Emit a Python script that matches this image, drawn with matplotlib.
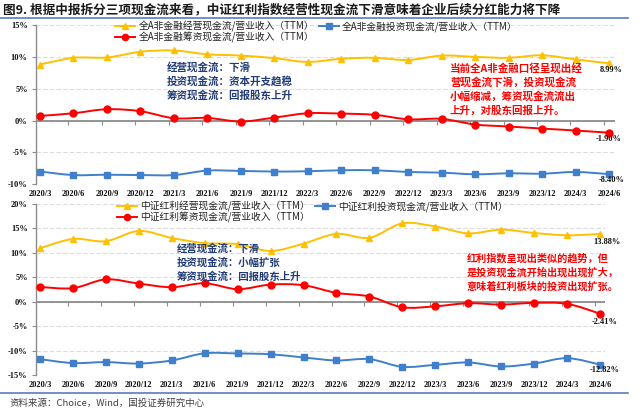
import numpy as np
import matplotlib
matplotlib.use("Agg")
import matplotlib.pyplot as plt
from matplotlib.path import Path
from matplotlib.patches import PathPatch
from matplotlib.lines import Line2D
from matplotlib.ticker import FuncFormatter

plt.rcParams['font.family'] = ['Noto Sans CJK SC', 'DejaVu Sans']

# ---------------- data ----------------
quarters = ["2020/3", "2020/6", "2020/9", "2020/12", "2021/3", "2021/6", "2021/9", "2021/12",
            "2022/3", "2022/6", "2022/9", "2022/12", "2023/3", "2023/6", "2023/9", "2023/12",
            "2024/3", "2024/6"]

# 全A非金融
a_oper = [8.8, 9.85, 9.9, 10.8, 11.0, 10.4, 10.2, 9.8, 9.2, 9.7, 9.85, 9.5, 10.2, 10.0, 9.85, 10.25, 9.6, 8.99]
a_fin = [0.73, 1.15, 1.78, 1.47, 0.37, 0.42, -0.15, 0.47, 1.15, 1.1, 0.9, 0.2, 0.27, -0.62, -0.93, -1.25, -1.56, -1.90]
a_inv = [-8.0, -8.55, -8.5, -8.55, -8.55, -7.85, -7.9, -8.0, -7.95, -7.8, -7.8, -8.07, -8.17, -8.43, -8.28, -8.33, -8.07, -8.40]

# 中证红利
d_oper = [10.95, 12.86, 12.4, 14.5, 13.06, 12.0, 11.8, 10.4, 11.9, 13.9, 13.1, 16.05, 15.4, 14.0, 14.76, 14.08, 13.6, 13.88]
d_fin = [3.06, 2.8, 4.6, 3.74, 3.0, 3.8, 2.6, 3.54, 3.4, 1.84, 1.1, -1.1, -0.9, -0.27, -0.54, -0.2, -0.4, -2.41]
d_inv = [-11.7, -12.5, -12.3, -12.6, -11.97, -10.5, -10.54, -10.7, -11.36, -11.97, -11.7, -13.27, -12.86, -12.38, -13.2, -12.6, -11.5, -12.82]

top_labels = ["全A非金融经营现金流/营业收入（TTM）", "全A非金融筹资现金流/营业收入（TTM）", "全A非金融投资现金流/营业收入（TTM）"]
bot_labels = ["中证红利经营现金流/营业收入（TTM）", "中证红利筹资现金流/营业收入（TTM）", "中证红利投资现金流/营业收入（TTM）"]

title = "图9. 根据中报拆分三项现金流来看，中证红利指数经营性现金流下滑意味着企业后续分红能力将下降"
source = "资料来源：Choice，Wind，国投证券研究中心"
top_notes = ["经营现金流：下滑", "投资现金流：资本开支趋稳", "筹资现金流：回报股东上升"]
top_red = ["当前全A非金融口径呈现出经", "营现金流下滑，投资现金流", "小幅缩减，筹资现金流流出", "上升，对股东回报上升。"]
bot_notes = ["经营现金流：下滑", "投资现金流：小幅扩张", "筹资现金流：回报股东上升"]
bot_red = ["红利指数呈现出类似的趋势，但", "是投资现金流开始出现出现扩大，", "意味着红利板块的投资出现扩张。"]

# ---------------- style ----------------
YEL = '#FFC000'
RED = '#FF0000'
BLU = '#3F7FCC'
NAVY = '#223C78'
NUMFONT = 'Liberation Serif'

W, H = 640, 417
fig = plt.figure(figsize=(W / 100, H / 100), dpi=100)


def smooth_path(x, y):
    pts = np.column_stack([x, y]).astype(float)
    n = len(pts)
    verts = [pts[0]]
    codes = [Path.MOVETO]
    for i in range(n - 1):
        p0 = pts[i - 1] if i > 0 else pts[i]
        p1 = pts[i]
        p2 = pts[i + 1]
        p3 = pts[i + 2] if i + 2 < n else pts[i + 1]
        c1 = p1 + (p2 - p0) / 6.0
        c2 = p2 - (p3 - p1) / 6.0
        verts += [c1, c2, p2]
        codes += [Path.CURVE4] * 3
    return Path(verts, codes)


def setup_axes(rect, ylim, yticks, xlim_right):
    ax = fig.add_axes(rect)
    x = np.arange(len(quarters))
    ax.set_xlim(-0.12, xlim_right)
    ax.set_ylim(*ylim)
    ax.set_yticks(yticks)
    ax.yaxis.set_major_formatter(FuncFormatter(lambda v, p: f"{v:.0f}%"))
    ax.set_xticks(x)
    ax.set_xticklabels(quarters)
    for s in ['top', 'right', 'bottom']:
        ax.spines[s].set_visible(False)
    ax.spines['left'].set_color('#8C8C8C')
    ax.spines['left'].set_linewidth(1.0)
    ax.tick_params(axis='x', length=0, pad=4)
    ax.tick_params(axis='y', length=3, width=0.8, color='#8C8C8C', pad=3)
    for lab in ax.get_xticklabels() + ax.get_yticklabels():
        lab.set_fontfamily(NUMFONT)
        lab.set_fontweight('bold')
        lab.set_fontsize(6)
        lab.set_color('#111111')
    ax.grid(axis='y', color='#DCDCDC', linestyle=(0, (4, 2)), linewidth=0.8)
    ax.set_axisbelow(True)
    ax.axhline(0, color='#8C8C8C', linewidth=1.3, zorder=2)
    ax.plot(x[1:] - 0.15, np.zeros(len(x) - 1), ls='none', marker=3, ms=3,
            mew=0.8, color='#8C8C8C', zorder=2)
    return ax, x


def draw_series(ax, x, y, color, marker, ms):
    ax.add_patch(PathPatch(smooth_path(x, y), fill=False, edgecolor=color, lw=1.4, zorder=3))
    ax.plot(x, y, ls='none', marker=marker, ms=ms, color=color, zorder=4)


def end_label(ax, x, y, dx, dy):
    ax.annotate(f"{y[-1]:.2f}%", xy=(x[-1], y[-1]), xytext=(dx, dy), textcoords='offset pixels',
                ha='center', va='center', fontfamily=NUMFONT, fontweight='bold', fontsize=6,
                color='#111111', zorder=5)


def legend(labels, anchor):
    handles = [Line2D([], [], color=YEL, marker='^', ms=4.5, lw=1.4),
               Line2D([], [], color=RED, marker='o', ms=4.5, lw=1.4),
               Line2D([], [], color=BLU, marker='s', ms=4, lw=1.4)]
    leg = fig.legend(handles, labels, loc='upper left', bbox_to_anchor=anchor, ncol=2,
                     frameon=False, fontsize=7, borderpad=0, borderaxespad=0,
                     handlelength=2.1, handletextpad=0.3, columnspacing=0.5, labelspacing=0.0)
    for t in leg.get_texts():
        t.set_color('#222222')
    return leg


# ---------------- top chart ----------------
ax1, x = setup_axes([36 / W, 1 - 184.3 / H, 579 / W, 159.3 / H], (-10, 15),
                    [-10, -5, 0, 5, 10, 15], 17.18)
draw_series(ax1, x, a_oper, YEL, '^', 4.5)
draw_series(ax1, x, a_fin, RED, 'o', 5)
draw_series(ax1, x, a_inv, BLU, 's', 4.3)
end_label(ax1, x, a_oper, 2, -7)
end_label(ax1, x, a_fin, 0, -6)
end_label(ax1, x, a_inv, 3, -6)
legend(top_labels, (115 / W, 1 - 21 / H))

# ---------------- bottom chart ----------------
ax2, x2 = setup_axes([36 / W, 1 - 375.3 / H, 569 / W, 171.3 / H], (-15, 20),
                     [-15, -10, -5, 0, 5, 10, 15, 20], 17.15)
draw_series(ax2, x2, d_oper, YEL, '^', 4.5)
draw_series(ax2, x2, d_fin, RED, 'o', 5)
draw_series(ax2, x2, d_inv, BLU, 's', 4.3)
end_label(ax2, x2, d_oper, 7, -8)
end_label(ax2, x2, d_fin, 5, -8)
end_label(ax2, x2, d_inv, 5, -5)
legend(bot_labels, (117 / W, 1 - 200.5 / H))

# ---------------- annotations ----------------
for i, s in enumerate(top_notes):
    fig.text(167 / W, 1 - (67 + 14.2 * i) / H, s, color=NAVY, fontsize=7.6, fontweight='bold',
             va='center', ha='left')
for i, s in enumerate(top_red):
    fig.text(450 / W, 1 - (68.3 + 14 * i) / H, s, color=RED, fontsize=7.6, fontweight='bold',
             va='center', ha='left')
for i, s in enumerate(bot_notes):
    fig.text(177 / W, 1 - (248.3 + 14.2 * i) / H, s, color=NAVY, fontsize=7.5, fontweight='bold',
             va='center', ha='left')
for i, s in enumerate(bot_red):
    fig.text(467 / W, 1 - (258.3 + 14.2 * i) / H, s, color=RED, fontsize=7.3, fontweight='bold',
             va='center', ha='left')

# ---------------- title / source ----------------
fig.text(3 / W, 1 - 9.5 / H, title, fontsize=9.1, fontweight='bold', color='#1A1A1A',
         va='center', ha='left')
fig.add_artist(Line2D([0, 628 / W], [1 - 17.5 / H] * 2, transform=fig.transFigure,
                      color='#5B7BC0', lw=1.2))
fig.add_artist(Line2D([0, 628 / W], [1 - 393 / H] * 2, transform=fig.transFigure,
                      color='#5B7BC0', lw=1.2))
fig.text(10 / W, 1 - 403 / H, source, fontsize=6.8, color='#404040', va='center', ha='left')

fig.savefig("out.png", dpi=100)
